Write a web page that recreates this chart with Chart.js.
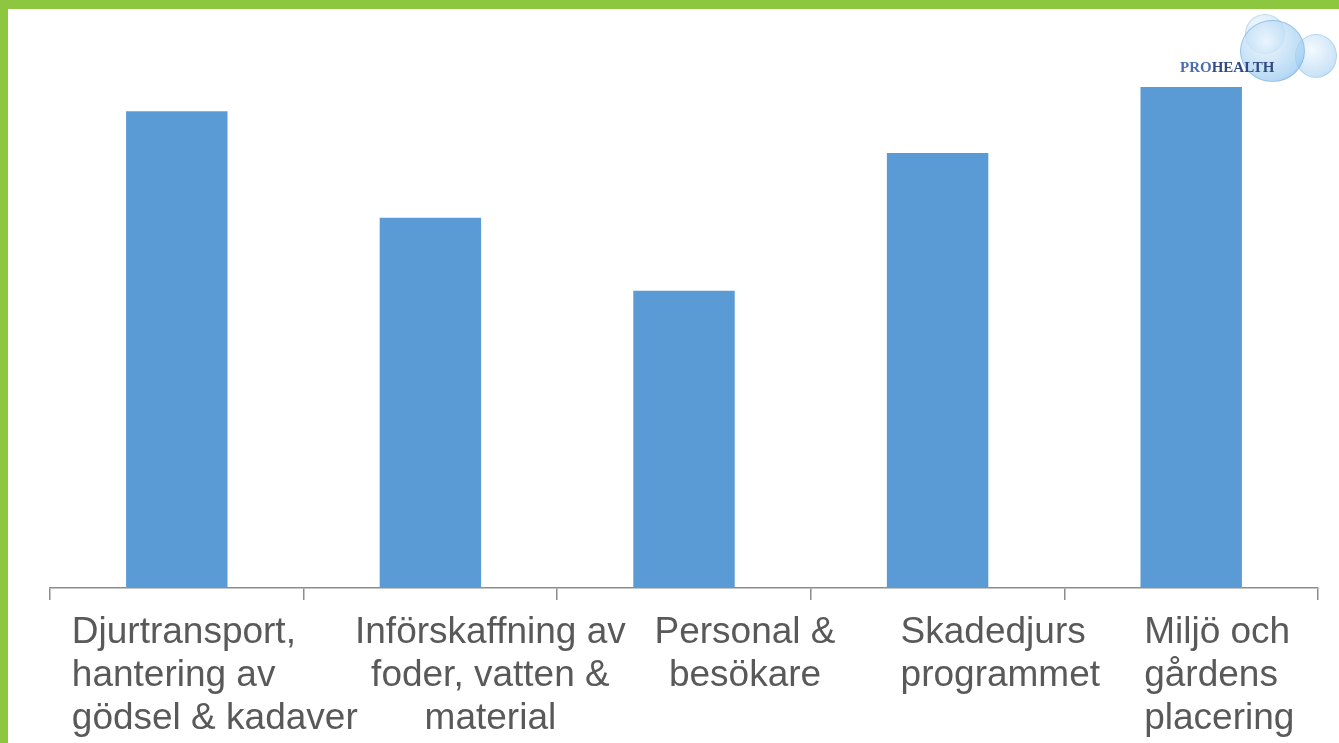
<!DOCTYPE html>
<html lang='sv'>
  <head>
    <title>Biosäkerhet - områden</title>
    <meta charset='UTF-8'>
    <script src='https://cdn.jsdelivr.net/npm/chart.js@4.4.1/dist/chart.umd.min.js'></script>
    <style>
      html, body { margin: 0; padding: 0; background: #fff; overflow: hidden; }
      #wrap { position: relative; width: 1339px; height: 743px; }
      #top  { position: absolute; left: 0; top: 0; width: 1339px; height: 9px; background: #8dc63f; }
      #left { position: absolute; left: 0; top: 0; width: 8px; height: 743px; background: #8dc63f; }
      #logo { position: absolute; left: 1170px; top: 14px; width: 169px; height: 70px; }
      .bubble { position: absolute; border-radius: 50%; border: 1px solid rgba(110,170,220,0.6);
                background: radial-gradient(circle at 40% 35%, rgba(235,245,253,0.9), rgba(150,200,240,0.75) 70%, rgba(90,160,220,0.85)); }
      #logo span { position: absolute; left: 10px; top: 45px; line-height: 15px; font: 600 15px 'Liberation Serif', serif; color: #2f4a86; }
      #logo span b { color: #4a6cb0; font-weight: 600; }
      canvas { position: absolute; left: 0; top: 0; }
    </style>
  </head>
  <body>
    <div id='wrap'>
      <canvas id='grafico' width='1339' height='743'></canvas>
      <div id='top'></div>
      <div id='left'></div>
      <div id='logo'>
        <div class='bubble' style='left:75px;top:0px;width:38px;height:38px;opacity:0.55'></div>
        <div class='bubble' style='left:125px;top:20px;width:40px;height:42px;opacity:0.65'></div>
        <div class='bubble' style='left:70px;top:6px;width:63px;height:60px;opacity:0.9'></div>
        <span><b>PRO</b>HEALTH</span>
      </div>
    </div>
    <script>
      // kategorier (en rad per textrad)
      let labels = [
        ['Djurtransport,', 'hantering av', 'gödsel & kadaver'],
        ['Införskaffning av', 'foder, vatten &', 'material'],
        ['Personal &', 'besökare'],
        ['Skadedjurs', 'programmet'],
        ['Miljö och', 'gårdens', 'placering']
      ];
      let values = [90.3, 70.1, 56.3, 82.4, 94.9]; // skala 0-100

      // etiketterna ligger lite snett i originalet, så de ritas för hand
      let labelAlign  = ['left', 'center', 'center', 'left', 'left'];
      let labelOffset = [-105, 60, 61, -37, -47];

      let labelPlugin = {
        id: 'labels',
        afterDraw(chart) {
          let ctx = chart.ctx, x = chart.scales.x, i, j;
          ctx.save();
          ctx.font = '37px "Liberation Sans", Arial, sans-serif';
          ctx.fillStyle = '#595959';
          ctx.textBaseline = 'alphabetic';
          for(i = 0; i < labels.length; i++) {
            ctx.textAlign = labelAlign[i];
            for(j = 0; j < labels[i].length; j++) {
              ctx.fillText(labels[i][j], x.getPixelForValue(i) + labelOffset[i], x.bottom + 43 + j * 43);
            }
          }
          ctx.restore();
        }
      };

      let ctx = document.getElementById('grafico').getContext('2d');
      let myChart = new Chart(ctx, {
        type: 'bar',
        data: {
          labels: labels,
          datasets: [{
            data: values,
            backgroundColor: '#5b9bd5',
            borderWidth: 0,
            categoryPercentage: 1,
            barPercentage: 0.4
          }]
        },
        options: {
          responsive: false,
          animation: false,
          layout: { padding: { left: 50, right: 21, top: 60, bottom: 143 } },
          plugins: { legend: { display: false }, tooltip: { enabled: false } },
          scales: {
            x: {
              offset: true,
              border: { color: '#8c8c8c', width: 1.5 },
              grid: { offset: true, drawOnChartArea: false, drawTicks: true, tickLength: 12, color: '#8c8c8c', lineWidth: 1.5 },
              ticks: { display: false }
            },
            y: { display: false, min: 0, max: 100 }
          }
        },
        plugins: [labelPlugin]
      });
    </script>
  </body>
</html>
